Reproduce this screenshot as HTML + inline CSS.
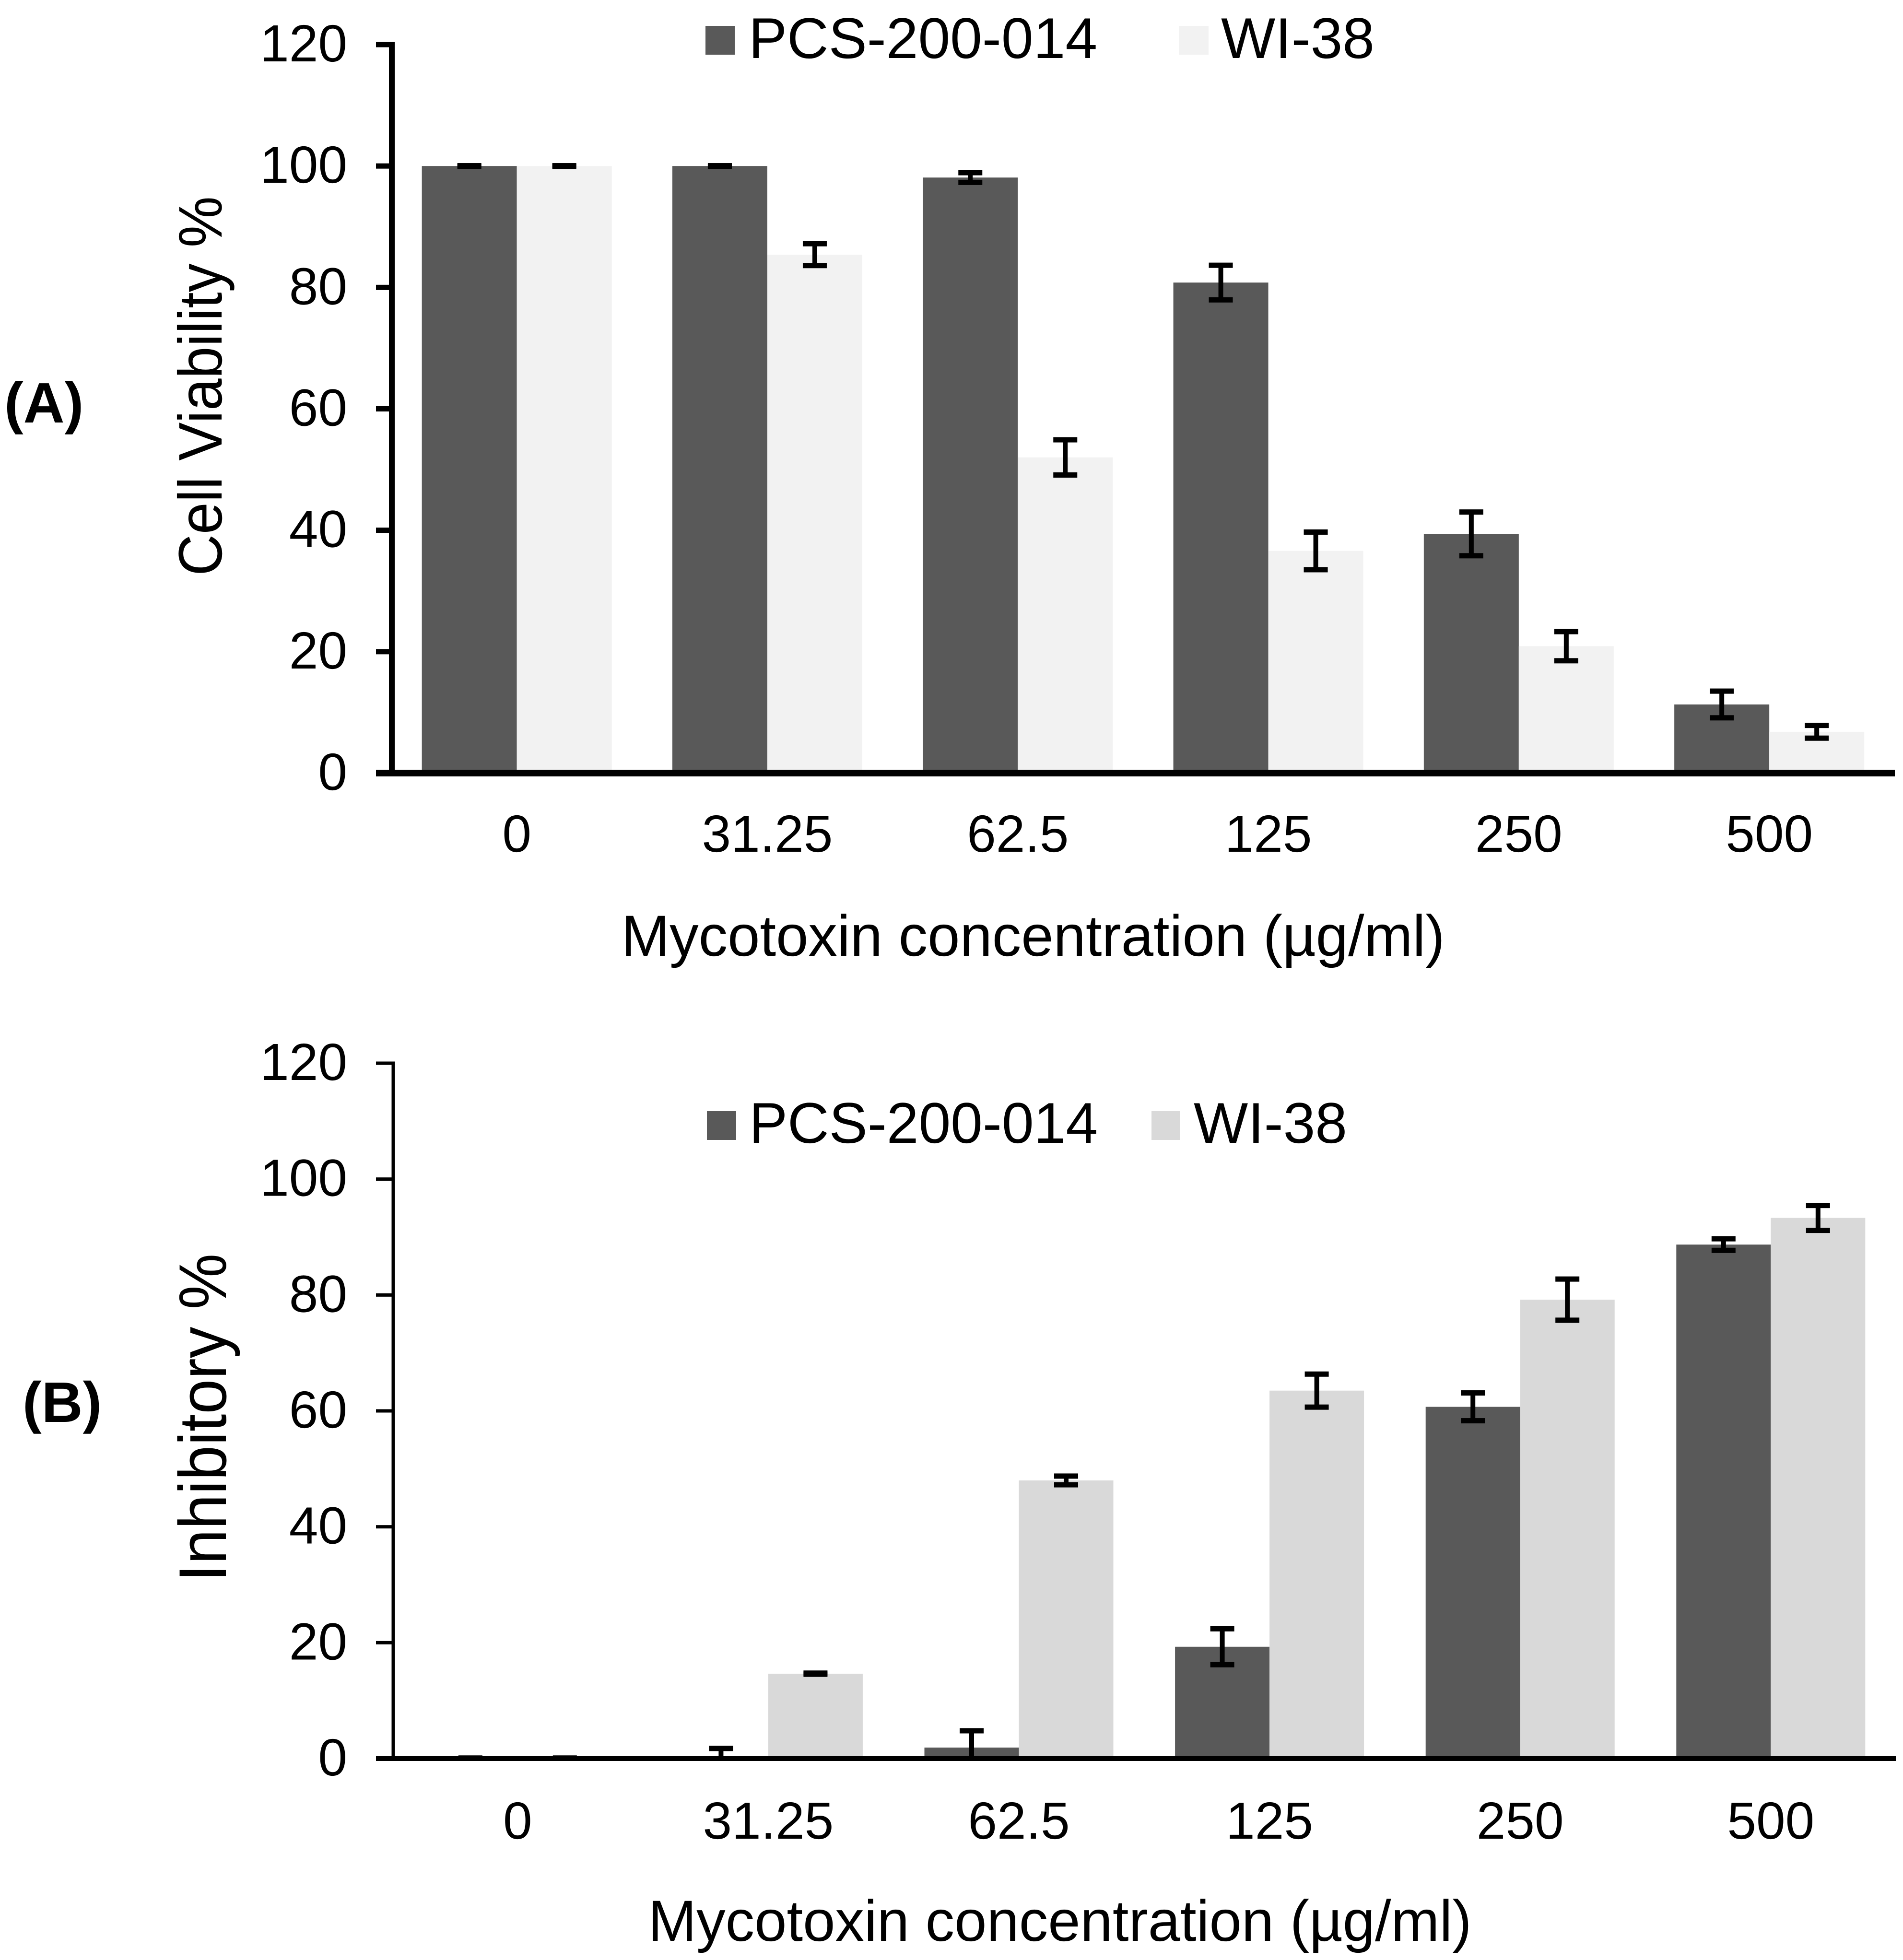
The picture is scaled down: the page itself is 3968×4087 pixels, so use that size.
<!DOCTYPE html>
<html lang="en">
<head>
<meta charset="utf-8">
<title>Cell viability and inhibitory percentage by mycotoxin concentration</title>
<style>
  html, body { margin: 0; padding: 0; background: #fff; width: 3968px; height: 4087px; overflow: hidden; }
  svg { display: block; }
  text { font-family: "Liberation Sans", Arial, sans-serif; fill: #000; text-rendering: geometricPrecision; }
</style>
</head>
<body>
<svg id="figure" xmlns="http://www.w3.org/2000/svg" width="3968" height="4087" viewBox="0 0 3968 4087">
  <rect x="0" y="0" width="3968" height="4087" fill="#ffffff"/>

  <g id="panel-a"></g>
  <g id="panel-b"></g>

  <text x="9" y="881" font-size="119" font-weight="700">(A)</text>
  <text x="47" y="2965" font-size="119" font-weight="700">(B)</text>

  <text transform="translate(462 805) rotate(-90) scale(1 1.07)" text-anchor="middle" font-size="120">Cell Viability %</text>
  <text transform="translate(471 2956) rotate(-90) scale(1 1.07)" text-anchor="middle" font-size="131">Inhibitory %</text>

  <text x="2154" y="1993" text-anchor="middle" font-size="121">Mycotoxin concentration (µg/ml)</text>
  <text x="2210" y="4047" text-anchor="middle" font-size="121">Mycotoxin concentration (µg/ml)</text>

  <g>
    <g>
      <rect x="1471" y="54" width="61" height="60" fill="#595959"/>
      <text x="1561" y="121" font-size="120">PCS-200-014</text>
    </g>
    <g>
      <rect x="2458" y="54" width="62" height="60" fill="#f2f2f2"/>
      <text x="2546" y="121" font-size="120">WI-38</text>
    </g>
  </g>

  <g>
    <g>
      <rect x="1474" y="2317" width="61" height="60" fill="#595959"/>
      <text x="1562" y="2383" font-size="120">PCS-200-014</text>
    </g>
    <g>
      <rect x="2401" y="2317" width="60" height="60" fill="#d9d9d9"/>
      <text x="2489" y="2383" font-size="120">WI-38</text>
    </g>
  </g>
</svg>

<script>
// Shared category and tick labels
const categories = ['0', '31.25', '62.5', '125', '250', '500'];
const yTickLabels = [0, 20, 40, 60, 80, 100, 120];

// Panel A: cell viability %
const panelAPcsValues = [100, 100, 98.1, 80.8, 39.4, 11.3];
const panelAWiValues = [100, 85.4, 52.0, 36.6, 20.9, 6.8];
const panelAPcsErrors = [0.05, 0.05, 0.8, 2.85, 3.6, 2.2];
const panelAWiErrors = [0.05, 1.8, 2.9, 3.1, 2.4, 1.05];

// Panel B: inhibitory %
const panelBPcsValues = [0, 0, 1.9, 19.3, 60.7, 88.7];
const panelBWiValues = [0, 14.65, 48.0, 63.5, 79.2, 93.3];
const panelBPcsErrors = [0.1, 1.75, 2.9, 3.1, 2.4, 1.0];
const panelBWiErrors = [0.1, 0.1, 0.75, 2.85, 3.55, 2.15];

const SVG_NS = 'http://www.w3.org/2000/svg';

const panelALayout = {
  prefix: 'panel-a', groupId: 'panel-a',
  y0: 1612, y120: 93,
  plotLeft: 816.5, bandWidth: 522.3, barWidth: 198,
  axisX: 817, axisWidth: 12, axisRight: 3951, xAxisThickness: 14, tickThickness: 11,
  yLabelOffset: 35, xLabelBaseline: 1776, wiColor: '#f2f2f2'
};
const panelBLayout = {
  prefix: 'panel-b', groupId: 'panel-b',
  y0: 3667, y120: 2217,
  plotLeft: 818, bandWidth: 522.6, barWidth: 197,
  axisX: 820, axisWidth: 7, axisRight: 3953, xAxisThickness: 10, tickThickness: 7,
  yLabelOffset: 35, xLabelBaseline: 3834, wiColor: '#d9d9d9'
};

function yScale(layout, value) {
  return layout.y0 - value * (layout.y0 - layout.y120) / 120;
}
function xCenter(layout, index) {
  return layout.plotLeft + layout.bandWidth * (index + 0.5);
}
function makeRect(x, y, w, h, fill) {
  const r = document.createElementNS(SVG_NS, 'rect');
  r.setAttribute('x', x);
  r.setAttribute('y', y);
  r.setAttribute('width', w);
  r.setAttribute('height', h);
  r.setAttribute('fill', fill);
  return r;
}

function drawBar(group, layout, index, value, seriesName, side, color) {
  const top = yScale(layout, value);
  const left = xCenter(layout, index) + (side < 0 ? -layout.barWidth : 0);
  const bar = makeRect(left, top, layout.barWidth, Math.max(0, layout.y0 - top), color);
  
  
  group.appendChild(bar);
}

function drawErrorBar(group, layout, index, value, error, seriesName, side) {
  const cx = xCenter(layout, index) + side * layout.barWidth / 2;
  const hi = value + error;
  const lo = value - error;
  const capW = 50, capH = 11, stemW = 10;
  const g = document.createElementNS(SVG_NS, 'g');
  
  
  const yHi = yScale(layout, hi);
  const yLo = yScale(layout, Math.max(lo, 0));
  g.appendChild(makeRect(cx - stemW / 2, yHi, stemW, yLo - yHi, '#000'));
  g.appendChild(makeRect(cx - capW / 2, yHi - capH / 2, capW, capH, '#000'));
  if (lo >= 0) {
    g.appendChild(makeRect(cx - capW / 2, yLo - capH / 2, capW, capH, '#000'));
  }
  group.appendChild(g);
}

function drawAxes(group, layout) {
  const yAxis = makeRect(layout.axisX - layout.axisWidth / 2, layout.y120 - layout.tickThickness / 2, layout.axisWidth, layout.y0 - layout.y120 + layout.tickThickness / 2, '#000');
  
  
  group.appendChild(yAxis);

  const xAxis = makeRect(784, layout.y0 - layout.xAxisThickness / 2, layout.axisRight - 784, layout.xAxisThickness, '#000');
  
  
  group.appendChild(xAxis);

  yTickLabels.forEach(function (tick) {
    const y = yScale(layout, tick);
    const mark = makeRect(784, y - layout.tickThickness / 2, layout.axisX - 784, layout.tickThickness, '#000');
    
    
    group.appendChild(mark);

    const label = document.createElementNS(SVG_NS, 'text');
    label.setAttribute('x', 724);
    label.setAttribute('y', y + layout.yLabelOffset);
    label.setAttribute('text-anchor', 'end');
    label.setAttribute('font-size', '109');
    label.textContent = String(tick);
    
    
    group.appendChild(label);
  });

  categories.forEach(function (cat, i) {
    const label = document.createElementNS(SVG_NS, 'text');
    label.setAttribute('x', xCenter(layout, i));
    label.setAttribute('y', layout.xLabelBaseline);
    label.setAttribute('text-anchor', 'middle');
    label.setAttribute('font-size', '109');
    label.textContent = cat;
    
    
    group.appendChild(label);
  });
}

function drawPanel(layout, pcsValues, wiValues, pcsErrors, wiErrors) {
  const group = document.getElementById(layout.groupId);
  categories.forEach(function (cat, i) {
    drawBar(group, layout, i, pcsValues[i], 'pcs-200-014', -1, '#595959');
    drawBar(group, layout, i, wiValues[i], 'wi-38', 1, layout.wiColor);
  });
  drawAxes(group, layout);
  categories.forEach(function (cat, i) {
    drawErrorBar(group, layout, i, pcsValues[i], pcsErrors[i], 'pcs-200-014', -1);
    drawErrorBar(group, layout, i, wiValues[i], wiErrors[i], 'wi-38', 1);
  });
}

drawPanel(panelALayout, panelAPcsValues, panelAWiValues, panelAPcsErrors, panelAWiErrors);
drawPanel(panelBLayout, panelBPcsValues, panelBWiValues, panelBPcsErrors, panelBWiErrors);
</script>
</body>
</html>
